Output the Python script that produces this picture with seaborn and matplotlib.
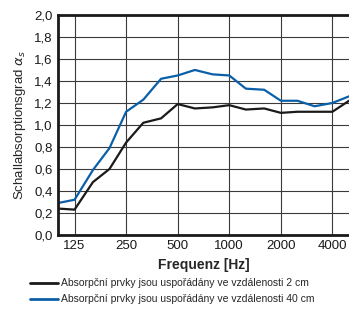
import pandas as pd
import matplotlib
matplotlib.use("Agg")
import matplotlib.pyplot as plt
import seaborn as sns

# third-octave band centre frequencies
freqs = [100, 125, 160, 200, 250, 315, 400, 500, 630, 800, 1000,
         1250, 1600, 2000, 2500, 3150, 4000, 5000]
alpha_2cm = [0.24, 0.23, 0.48, 0.60, 0.84, 1.02, 1.06, 1.19, 1.15, 1.16, 1.18,
             1.14, 1.15, 1.11, 1.12, 1.12, 1.12, 1.22]
alpha_40cm = [0.29, 0.32, 0.59, 0.79, 1.12, 1.23, 1.42, 1.45, 1.50, 1.46, 1.45,
              1.33, 1.32, 1.22, 1.22, 1.17, 1.20, 1.26]
series_names = ["Absorpční prvky jsou uspořádány ve vzdálenosti 2 cm",
                "Absorpční prvky jsou uspořádány ve vzdálenosti 40 cm"]
xtick_vals = [125, 250, 500, 1000, 2000, 4000]
ytick_vals = [0.0, 0.2, 0.4, 0.6, 0.8, 1.0, 1.2, 1.4, 1.6, 1.8, 2.0]

df = pd.DataFrame({
    "freq": freqs * 2,
    "alpha": alpha_2cm + alpha_40cm,
    "series": [series_names[0]] * len(freqs) + [series_names[1]] * len(freqs),
})

sns.set_style("white")
plt.rcParams["font.family"] = ["Liberation Sans", "DejaVu Sans"]

fig = plt.figure(figsize=(3.49, 3.12), dpi=100)
ax = fig.add_axes([0.166, 0.247, 0.834, 0.705])

sns.lineplot(data=df, x="freq", y="alpha", hue="series",
             palette=["#1a1a1a", "#0a5fa8"], linewidth=1.6, ax=ax, legend=False)

ax.set_xscale("log")
ax.set_xlim(100, 5000)
ax.set_ylim(0, 2.0)
ax.set_xticks(xtick_vals)
ax.set_xticklabels([str(v) for v in xtick_vals])
ax.minorticks_off()
ax.set_yticks(ytick_vals)
ax.set_yticklabels([f"{v:.1f}".replace(".", ",") for v in ytick_vals])
ax.tick_params(axis="both", labelsize=9.5, length=0, pad=4, colors="#1a1a1a")
ax.grid(True, color="#3a3a3a", linewidth=0.8)
ax.set_axisbelow(True)
for side in ["top", "left", "bottom"]:
    ax.spines[side].set_linewidth(2)
    ax.spines[side].set_color("#1a1a1a")
ax.spines["right"].set_visible(False)

ax.set_xlabel("Frequenz [Hz]", fontsize=10, fontweight="bold", labelpad=4)
ax.set_ylabel(r"Schallabsorptionsgrad $\alpha_s$", fontsize=9.5, labelpad=4)

handles = [plt.Line2D([], [], color="#1a1a1a", linewidth=2),
           plt.Line2D([], [], color="#0a5fa8", linewidth=2)]
fig.legend(handles, series_names, loc="lower left", bbox_to_anchor=(0.06, -0.005),
           frameon=False, fontsize=7.5, handlelength=2.7, handletextpad=0.2,
           labelspacing=0.55)

fig.savefig("out.png", dpi=100)
